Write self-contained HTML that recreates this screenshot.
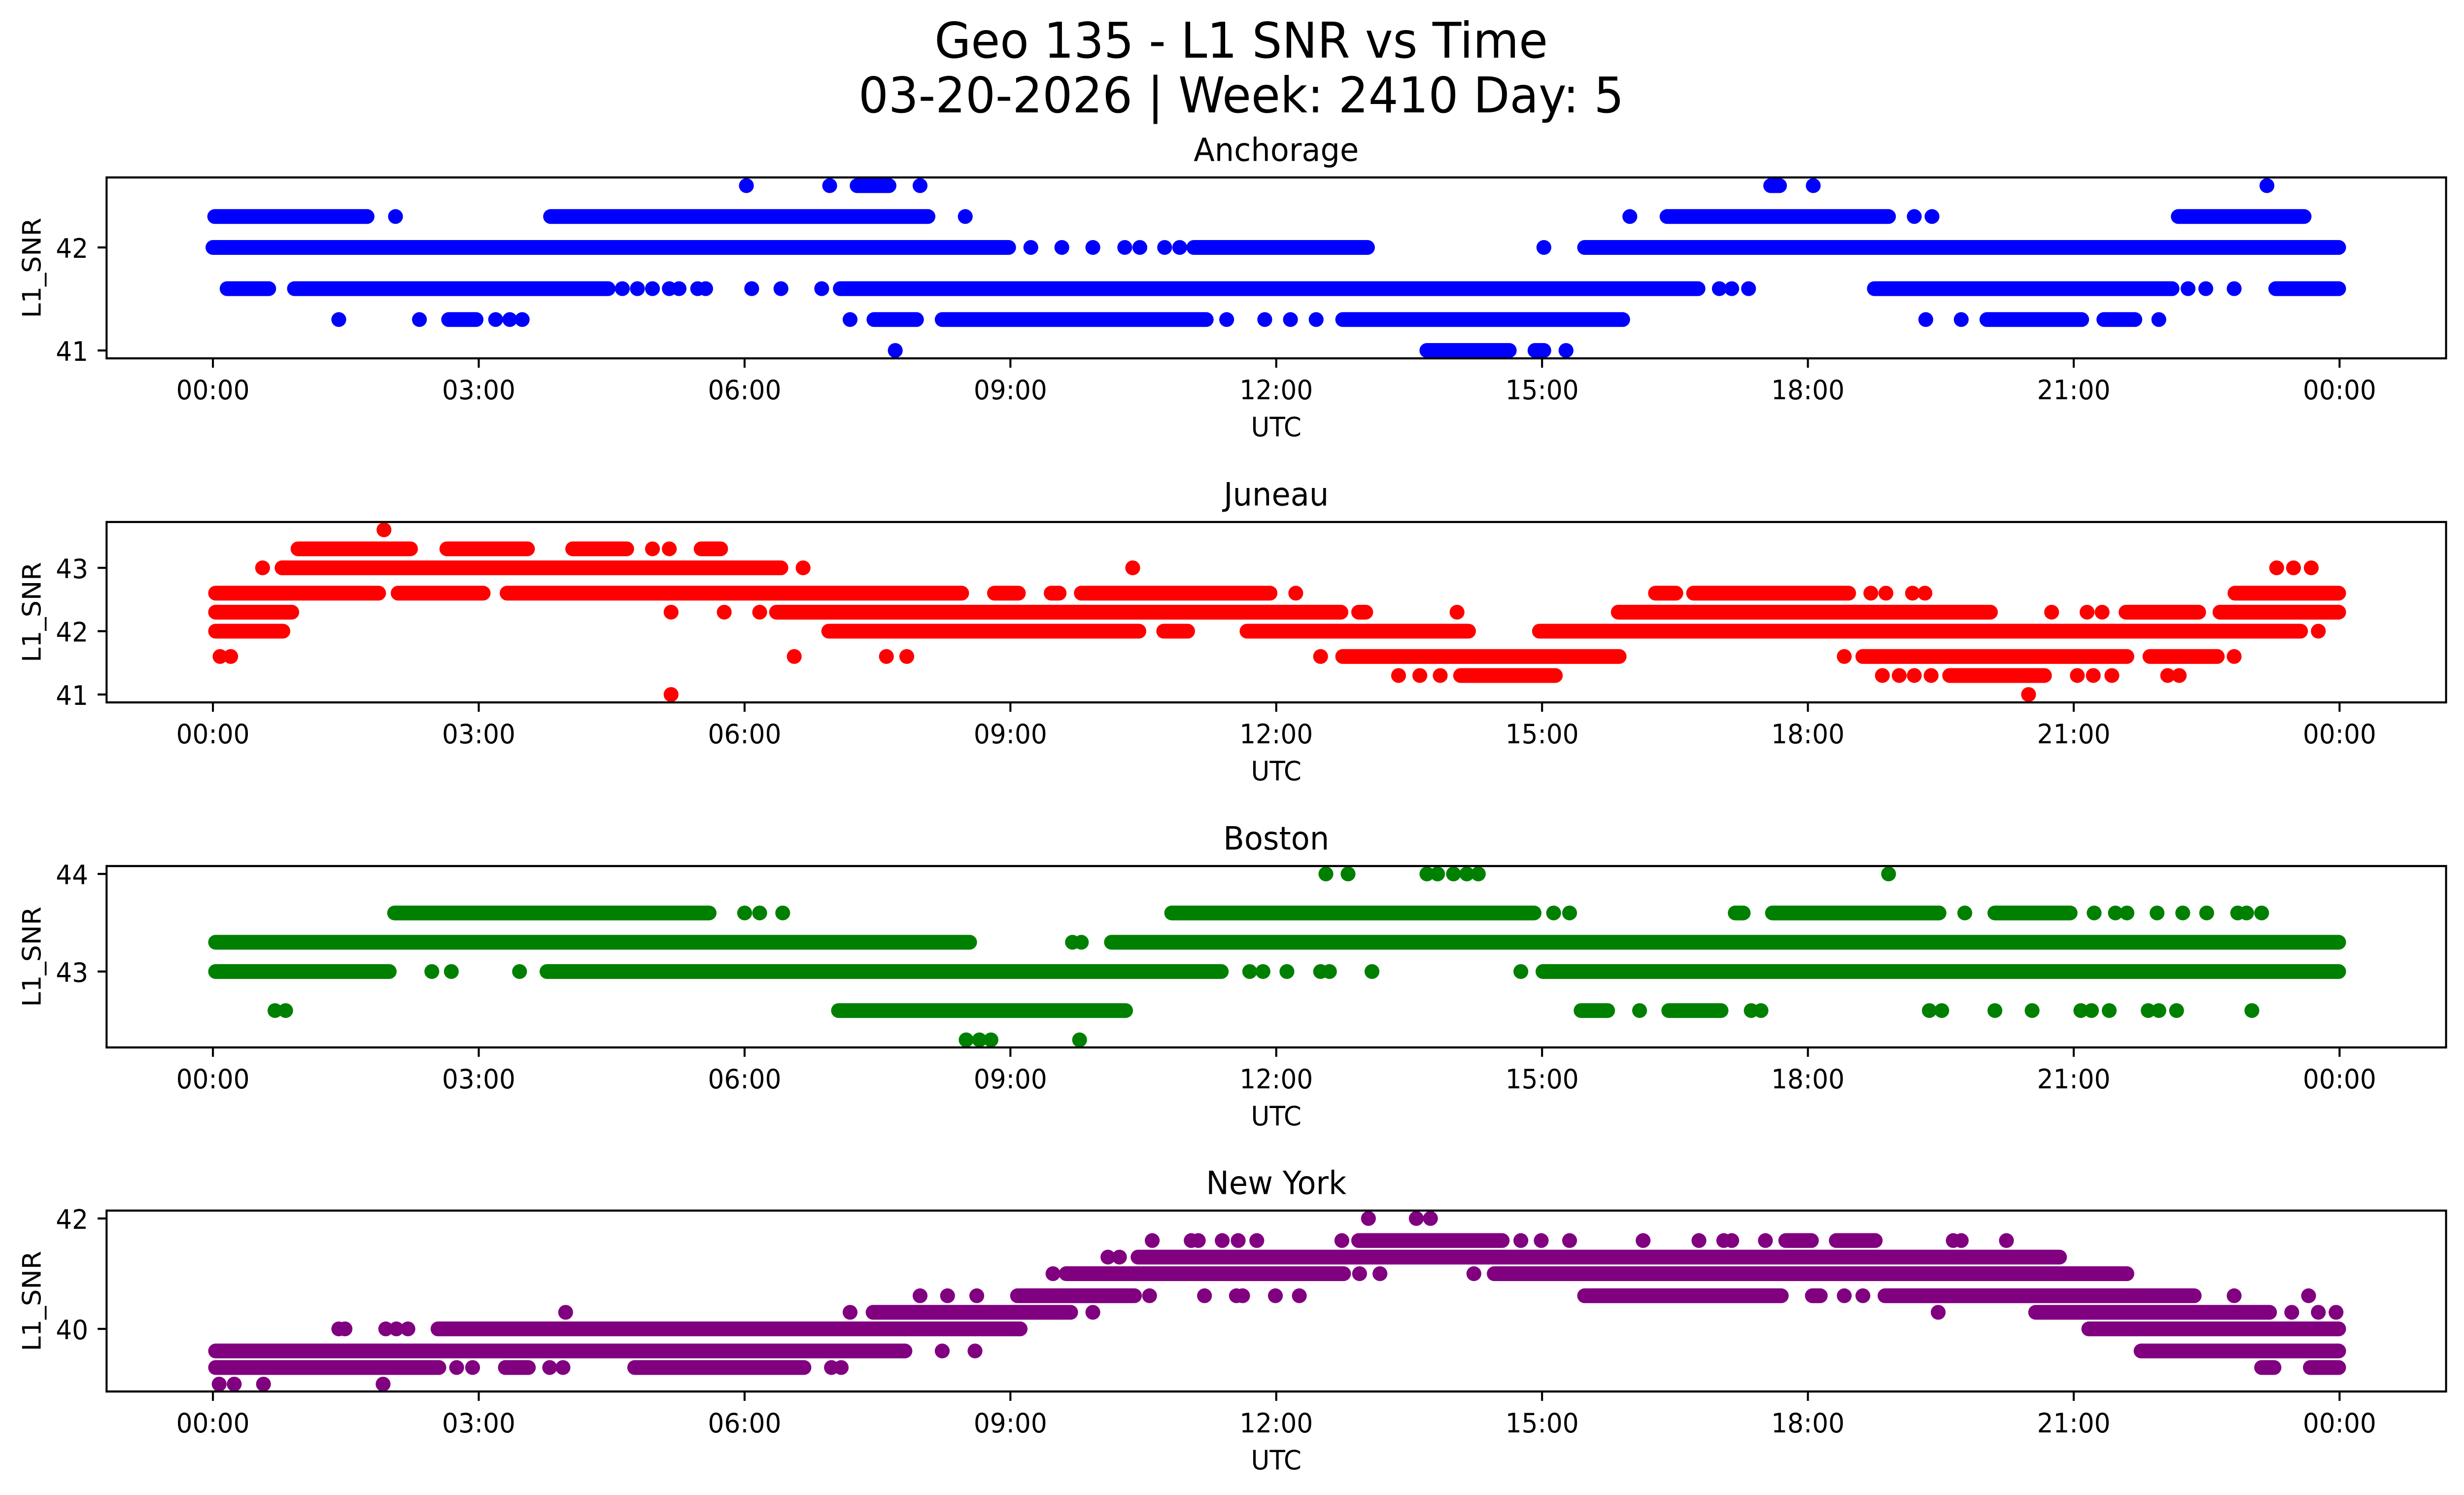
<!DOCTYPE html>
<html>
<head>
<meta charset="utf-8">
<style>
html,body{margin:0;padding:0;background:#fff;width:100%;height:100%;overflow:hidden}
svg{display:block;width:100vw;height:100vh}
.d path{vector-effect:non-scaling-stroke;fill:none;stroke-width:30;stroke-linecap:round}
text{font-family:"DejaVu Sans","Liberation Sans",sans-serif;fill:#000}
.tk{font-size:54px}
.st{font-size:65px}
.sup{font-size:100px}
</style>
</head>
<body>
<svg xmlns="http://www.w3.org/2000/svg" viewBox="0 0 5225 3033" preserveAspectRatio="none">
<rect x="0" y="0" width="5225" height="3033" fill="#fff"/>
<defs>
<clipPath id="c1"><rect x="226" y="360" width="4961" height="367"/></clipPath>
<clipPath id="c2"><rect x="226" y="1059" width="4961" height="366"/></clipPath>
<clipPath id="c3"><rect x="226" y="1757" width="4961" height="368"/></clipPath>
<clipPath id="c4"><rect x="226" y="2456" width="4961" height="367"/></clipPath>
</defs>

<!-- Suptitle -->
<text class="sup" x="2632" y="117" text-anchor="middle">Geo 135 - L1 SNR vs Time</text>
<text class="sup" x="2632" y="228" text-anchor="middle">03-20-2026 | Week: 2410 Day: 5</text>

<!-- ============ Axes 1: Anchorage ============ -->
<g clip-path="url(#c1)">
<g class="d" transform="matrix(187.9 0 0 -209 451.5 9280)" stroke="#0000ff">
<path d="M6.02 42.6h.001M6.96 42.6h.001M7.27 42.6H7.63M7.98 42.6h.001M17.58 42.6H17.68M18.06 42.6h.001M23.18 42.6h.001"/>
<path d="M0.02 42.3H1.74M2.06 42.3h.001M3.81 42.3H8.07M8.49 42.3h.001M15.99 42.3h.001M16.41 42.3H18.91M19.2 42.3h.001M19.4 42.3h.001M22.18 42.3H23.6"/>
<path d="M0 42H8.98M9.23 42h.001M9.58 42h.001M9.93 42h.001M10.29 42h.001M10.46 42h.001M10.74 42h.001M10.91 42h.001M11.07 42H13.03M15.02 42h.001M15.48 42H23.99"/>
<path d="M0.16 41.6H0.63M0.92 41.6H4.46M4.62 41.6h.001M4.79 41.6h.001M4.96 41.6h.001M5.15 41.6h.001M5.26 41.6h.001M5.47 41.6h.001M5.56 41.6h.001M6.08 41.6h.001M6.41 41.6h.001M6.87 41.6h.001M7.08 41.6H16.76M17 41.6h.001M17.14 41.6h.001M17.33 41.6h.001M18.75 41.6H22.11M22.29 41.6h.001M22.49 41.6h.001M22.81 41.6h.001M23.28 41.6H23.99"/>
<path d="M1.42 41.3h.001M2.33 41.3h.001M2.66 41.3H2.97M3.19 41.3h.001M3.35 41.3h.001M3.49 41.3h.001M7.19 41.3h.001M7.46 41.3H7.94M8.23 41.3H11.21M11.44 41.3h.001M11.87 41.3h.001M12.16 41.3h.001M12.45 41.3h.001M12.75 41.3H15.91M19.33 41.3h.001M19.73 41.3h.001M20.02 41.3H21.09M21.34 41.3H21.69M21.96 41.3h.001"/>
<path d="M7.7 41h.001M13.7 41H14.63M14.92 41H15.02M15.27 41h.001"/>
</g>
</g>
<rect x="226" y="360" width="4961" height="367" fill="none" stroke="#000" stroke-width="4.3"/>
<path d="M451.5 727v19M1015.2 727v19M1578.9 727v19M2142.6 727v19M2706.3 727v19M3270 727v19M3833.7 727v19M4397.4 727v19M4961.1 727v19M207 502h19M207 711h19" stroke="#000" stroke-width="4.3" fill="none"/>
<g class="tk" text-anchor="middle">
<text x="451.5" y="810">00:00</text><text x="1015.2" y="810">03:00</text><text x="1578.9" y="810">06:00</text><text x="2142.6" y="810">09:00</text><text x="2706.3" y="810">12:00</text><text x="3270" y="810">15:00</text><text x="3833.7" y="810">18:00</text><text x="4397.4" y="810">21:00</text><text x="4961.1" y="810">00:00</text>
<text x="2706.3" y="885">UTC</text>
</g>
<g class="tk" text-anchor="end"><text x="187" y="523">42</text><text x="187" y="732">41</text></g>
<text class="tk" text-anchor="middle" transform="translate(86 543.5) rotate(-90)">L1_SNR</text>
<text class="st" x="2706.3" y="326.5" text-anchor="middle">Anchorage</text>

<!-- ============ Axes 2: Juneau ============ -->
<g clip-path="url(#c2)">
<g class="d" transform="matrix(187.9 0 0 -128.5 451.5 6677.5)" stroke="#ff0000">
<path d="M1.93 43.6h.001"/>
<path d="M0.96 43.3H2.23M2.64 43.3H3.55M4.06 43.3H4.67M4.96 43.3h.001M5.15 43.3h.001M5.51 43.3H5.73"/>
<path d="M0.56 43h.001M0.78 43H6.41M6.66 43h.001M10.38 43h.001M23.29 43h.001M23.48 43h.001M23.68 43h.001"/>
<path d="M0.03 42.6H1.87M2.09 42.6H3.05M3.32 42.6H8.45M8.82 42.6H9.09M9.46 42.6H9.55M9.8 42.6H11.93M12.22 42.6h.001M16.28 42.6H16.51M16.71 42.6H18.46M18.71 42.6h.001M18.88 42.6h.001M19.18 42.6h.001M19.32 42.6h.001M22.82 42.6H23.99"/>
<path d="M0.03 42.3H0.89M5.17 42.3h.001M5.77 42.3h.001M6.17 42.3h.001M6.36 42.3H12.73M12.93 42.3H13.01M14.04 42.3h.001M15.86 42.3H20.06M20.75 42.3h.001M21.15 42.3h.001M21.32 42.3h.001M21.59 42.3H22.41M22.65 42.3H23.99"/>
<path d="M0.03 42H0.79M6.95 42H10.45M10.73 42H11M11.67 42H14.17M14.97 42H23.56M23.76 42h.001"/>
<path d="M0.08 41.6h.001M0.2 41.6h.001M6.56 41.6h.001M7.6 41.6h.001M7.83 41.6h.001M12.5 41.6h.001M12.75 41.6H15.87M18.41 41.6h.001M18.62 41.6H21.6M21.86 41.6H22.62M22.81 41.6h.001"/>
<path d="M13.38 41.3h.001M13.62 41.3h.001M13.85 41.3h.001M14.08 41.3H15.15M18.84 41.3h.001M19.03 41.3h.001M19.2 41.3h.001M19.39 41.3h.001M19.6 41.3H20.67M21.04 41.3h.001M21.22 41.3h.001M21.43 41.3h.001M22.06 41.3h.001M22.19 41.3h.001"/>
<path d="M5.17 41h.001M20.49 41h.001"/>
</g>
</g>
<rect x="226" y="1059" width="4961" height="366" fill="none" stroke="#000" stroke-width="4.3"/>
<path d="M451.5 1425v19M1015.2 1425v19M1578.9 1425v19M2142.6 1425v19M2706.3 1425v19M3270 1425v19M3833.7 1425v19M4397.4 1425v19M4961.1 1425v19M207 1152h19M207 1280.5h19M207 1409h19" stroke="#000" stroke-width="4.3" fill="none"/>
<g class="tk" text-anchor="middle">
<text x="451.5" y="1508">00:00</text><text x="1015.2" y="1508">03:00</text><text x="1578.9" y="1508">06:00</text><text x="2142.6" y="1508">09:00</text><text x="2706.3" y="1508">12:00</text><text x="3270" y="1508">15:00</text><text x="3833.7" y="1508">18:00</text><text x="4397.4" y="1508">21:00</text><text x="4961.1" y="1508">00:00</text>
<text x="2706.3" y="1583">UTC</text>
</g>
<g class="tk" text-anchor="end"><text x="187" y="1173">43</text><text x="187" y="1301.5">42</text><text x="187" y="1430">41</text></g>
<text class="tk" text-anchor="middle" transform="translate(86 1242) rotate(-90)">L1_SNR</text>
<text class="st" x="2706.3" y="1025.5" text-anchor="middle">Juneau</text>

<!-- ============ Axes 3: Boston ============ -->
<g clip-path="url(#c3)">
<g class="d" transform="matrix(187.9 0 0 -198 451.5 10485)" stroke="#008000">
<path d="M12.56 44h.001M12.81 44h.001M13.7 44h.001M13.82 44h.001M14 44h.001M14.15 44h.001M14.28 44h.001M18.91 44h.001"/>
<path d="M2.05 43.6H5.6M6 43.6h.001M6.17 43.6h.001M6.43 43.6h.001M10.82 43.6H14.91M15.13 43.6h.001M15.31 43.6h.001M17.18 43.6H17.27M17.6 43.6H19.48M19.77 43.6h.001M20.11 43.6H20.96M21.23 43.6h.001M21.47 43.6h.001M21.6 43.6h.001M21.94 43.6h.001M22.23 43.6h.001M22.5 43.6h.001M22.85 43.6h.001M22.95 43.6h.001M23.12 43.6h.001"/>
<path d="M0.03 43.3H8.54M9.7 43.3h.001M9.8 43.3h.001M10.14 43.3H23.99"/>
<path d="M0.03 43H1.99M2.47 43h.001M2.69 43h.001M3.46 43h.001M3.77 43H11.38M11.7 43h.001M11.85 43h.001M12.12 43h.001M12.5 43h.001M12.6 43h.001M13.08 43h.001M14.76 43h.001M15.01 43H23.99"/>
<path d="M0.7 42.6h.001M0.82 42.6h.001M7.06 42.6H10.3M15.44 42.6H15.74M16.1 42.6h.001M16.43 42.6H17.02M17.36 42.6h.001M17.47 42.6h.001M19.37 42.6h.001M19.51 42.6h.001M20.11 42.6h.001M20.53 42.6h.001M21.08 42.6h.001M21.2 42.6h.001M21.4 42.6h.001M21.84 42.6h.001M21.96 42.6h.001M22.16 42.6h.001M23.01 42.6h.001"/>
<path d="M8.5 42.3h.001M8.65 42.3h.001M8.78 42.3h.001M9.78 42.3h.001"/>
</g>
</g>
<rect x="226" y="1757" width="4961" height="368" fill="none" stroke="#000" stroke-width="4.3"/>
<path d="M451.5 2125v19M1015.2 2125v19M1578.9 2125v19M2142.6 2125v19M2706.3 2125v19M3270 2125v19M3833.7 2125v19M4397.4 2125v19M4961.1 2125v19M207 1773h19M207 1971h19" stroke="#000" stroke-width="4.3" fill="none"/>
<g class="tk" text-anchor="middle">
<text x="451.5" y="2208">00:00</text><text x="1015.2" y="2208">03:00</text><text x="1578.9" y="2208">06:00</text><text x="2142.6" y="2208">09:00</text><text x="2706.3" y="2208">12:00</text><text x="3270" y="2208">15:00</text><text x="3833.7" y="2208">18:00</text><text x="4397.4" y="2208">21:00</text><text x="4961.1" y="2208">00:00</text>
<text x="2706.3" y="2283">UTC</text>
</g>
<g class="tk" text-anchor="end"><text x="187" y="1794">44</text><text x="187" y="1992">43</text></g>
<text class="tk" text-anchor="middle" transform="translate(86 1941) rotate(-90)">L1_SNR</text>
<text class="st" x="2706.3" y="1723.5" text-anchor="middle">Boston</text>

<!-- ============ Axes 4: New York ============ -->
<g clip-path="url(#c4)">
<g class="d" transform="matrix(187.9 0 0 -112 451.5 7176)" stroke="#800080">
<path d="M13.04 42h.001M13.58 42h.001M13.74 42h.001"/>
<path d="M10.6 41.6h.001M11.04 41.6h.001M11.12 41.6h.001M11.39 41.6h.001M11.57 41.6h.001M11.78 41.6h.001M12.74 41.6h.001M12.93 41.6H14.55M14.76 41.6h.001M14.99 41.6h.001M15.31 41.6h.001M16.14 41.6h.001M16.77 41.6h.001M17.05 41.6h.001M17.14 41.6h.001M17.52 41.6h.001M17.75 41.6H18.04M18.32 41.6H18.76M19.64 41.6h.001M19.73 41.6h.001M20.24 41.6h.001"/>
<path d="M10.1 41.3h.001M10.23 41.3h.001M10.44 41.3H20.84"/>
<path d="M9.48 41h.001M9.63 41H12.76M12.94 41h.001M13.17 41h.001M14.23 41h.001M14.46 41H21.6"/>
<path d="M7.98 40.6h.001M8.29 40.6h.001M8.62 40.6h.001M9.08 40.6H10.4M10.57 40.6h.001M11.19 40.6h.001M11.55 40.6h.001M11.62 40.6h.001M11.99 40.6h.001M12.26 40.6h.001M15.48 40.6H17.7M18.05 40.6H18.14M18.41 40.6h.001M18.62 40.6h.001M18.87 40.6H22.36M22.81 40.6h.001M23.65 40.6h.001"/>
<path d="M3.98 40.3h.001M7.19 40.3h.001M7.45 40.3H9.68M9.93 40.3h.001M19.47 40.3h.001M20.57 40.3H23.21M23.46 40.3h.001M23.76 40.3h.001M23.96 40.3h.001"/>
<path d="M1.42 40h.001M1.49 40h.001M1.95 40h.001M2.07 40h.001M2.2 40h.001M2.54 40H9.11M21.17 40H23.99"/>
<path d="M0.03 39.6H7.81M8.23 39.6h.001M8.6 39.6h.001M21.76 39.6H23.99"/>
<path d="M0.03 39.3H2.55M2.75 39.3h.001M2.93 39.3h.001M3.3 39.3H3.56M3.8 39.3h.001M3.95 39.3h.001M4.76 39.3H6.67M6.98 39.3h.001M7.09 39.3h.001M23.12 39.3H23.26M23.67 39.3H23.99"/>
<path d="M0.07 39h.001M0.24 39h.001M0.57 39h.001M1.92 39h.001"/>
</g>
</g>
<rect x="226" y="2456" width="4961" height="367" fill="none" stroke="#000" stroke-width="4.3"/>
<path d="M451.5 2823v19M1015.2 2823v19M1578.9 2823v19M2142.6 2823v19M2706.3 2823v19M3270 2823v19M3833.7 2823v19M4397.4 2823v19M4961.1 2823v19M207 2472h19M207 2696h19" stroke="#000" stroke-width="4.3" fill="none"/>
<g class="tk" text-anchor="middle">
<text x="451.5" y="2906">00:00</text><text x="1015.2" y="2906">03:00</text><text x="1578.9" y="2906">06:00</text><text x="2142.6" y="2906">09:00</text><text x="2706.3" y="2906">12:00</text><text x="3270" y="2906">15:00</text><text x="3833.7" y="2906">18:00</text><text x="4397.4" y="2906">21:00</text><text x="4961.1" y="2906">00:00</text>
<text x="2706.3" y="2981">UTC</text>
</g>
<g class="tk" text-anchor="end"><text x="187" y="2493">42</text><text x="187" y="2717">40</text></g>
<text class="tk" text-anchor="middle" transform="translate(86 2639.5) rotate(-90)">L1_SNR</text>
<text class="st" x="2706.3" y="2422.5" text-anchor="middle">New York</text>
</svg>
</body>
</html>
